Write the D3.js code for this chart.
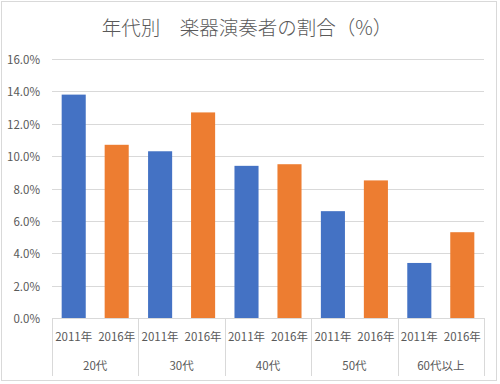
<!DOCTYPE html>
<html lang="ja">
<head>
  <meta charset="UTF-8">
  <title>年代別 楽器演奏者の割合</title>
  <style>
    body, html {
        margin: 0;
        padding: 0;
        background-color: #FFF;
    }
    svg text {
        font-family: "Noto Sans CJK JP", "Noto Sans", sans-serif;
        fill: #595959;
    }
  </style>
</head>
<body>

<svg id="chart" width="500" height="384"></svg>

<script src="https://d3js.org/d3.v7.min.js"></script>

<script>
/* global d3 */
var groups = ["20代", "30代", "40代", "50代", "60代以上"];
var years = ["2011年", "2016年"];
var values2011 = [13.8, 10.3, 9.4, 6.6, 3.4];
var values2016 = [10.7, 12.7, 9.5, 8.5, 5.3];
var yTicks = [0, 2, 4, 6, 8, 10, 12, 14, 16];

var colors = { "2011年": "#4472C4", "2016年": "#ED7D31" };

var svg = d3.select("#chart"),
  plotLeft = 52, plotRight = 484, plotTop = 59, plotBottom = 318;

// frame
svg.append("rect")
  .attr("x", 1.5).attr("y", 1.5)
  .attr("width", 495).attr("height", 379)
  .attr("fill", "#FFF")
  .attr("stroke", "#D9D9D9");

svg.append("text")
  .attr("x", 247).attr("y", 26)
  .attr("text-anchor", "middle")
  .attr("dominant-baseline", "central")
  .style("font-size", "19.5px")
  .style("font-weight", "300")
  .text("年代別　楽器演奏者の割合（%）");

var y = d3.scaleLinear().domain([0, 16]).range([plotBottom, plotTop]);
var x0 = d3.scaleBand().domain(groups).range([plotLeft, plotRight]);
var x1 = d3.scaleBand().domain(years).range([0, x0.bandwidth()])
  .paddingInner(0.44).paddingOuter(0.225);

// gridlines
svg.append("g")
  .selectAll("line")
  .data(yTicks.slice(1))
  .join("line")
  .attr("x1", plotLeft).attr("x2", plotRight)
  .attr("y1", function (d) { return Math.round(y(d)) + 0.5; })
  .attr("y2", function (d) { return Math.round(y(d)) + 0.5; })
  .attr("stroke", "#D9D9D9");

// y axis labels
svg.append("g")
  .selectAll("text")
  .data(yTicks)
  .join("text")
  .attr("x", 40)
  .attr("y", function (d) { return y(d); })
  .attr("text-anchor", "end")
  .attr("dominant-baseline", "central")
  .style("font-size", "11.5px")
  .text(function (d) { return d3.format(".1f")(d) + "%"; });

// bars
var rows = groups.map(function (g, i) {
  return { group: g, vals: [
    { year: years[0], v: values2011[i] },
    { year: years[1], v: values2016[i] }
  ]};
});

var grp = svg.append("g")
  .selectAll("g")
  .data(rows)
  .join("g")
  .attr("transform", function (d) { return "translate(" + x0(d.group) + ",0)"; });

grp.selectAll("rect")
  .data(function (d) { return d.vals; })
  .join("rect")
  .attr("x", function (d) { return x1(d.year); })
  .attr("width", x1.bandwidth())
  .attr("y", function (d) { return y(d.v); })
  .attr("height", function (d) { return plotBottom - y(d.v); })
  .attr("fill", function (d) { return colors[d.year]; });

// category axis
svg.append("line")
  .attr("x1", plotLeft).attr("x2", plotRight)
  .attr("y1", plotBottom + 0.5).attr("y2", plotBottom + 0.5)
  .attr("stroke", "#D9D9D9");

svg.append("g")
  .selectAll("line")
  .data(groups.map(function (g) { return x0(g); }).concat([plotRight]))
  .join("line")
  .attr("x1", function (d) { return Math.round(d) + 0.5; })
  .attr("x2", function (d) { return Math.round(d) + 0.5; })
  .attr("y1", plotBottom).attr("y2", 376)
  .attr("stroke", "#D9D9D9");

grp.selectAll("text.yr")
  .data(function (d) { return d.vals; })
  .join("text")
  .attr("class", "yr")
  .attr("x", function (d) { return x1(d.year) + x1.bandwidth() / 2; })
  .attr("y", 336)
  .attr("text-anchor", "middle")
  .attr("dominant-baseline", "central")
  .style("font-size", "11.5px")
  .text(function (d) { return d.year; });

grp.append("text")
  .attr("x", x0.bandwidth() / 2)
  .attr("y", 365)
  .attr("text-anchor", "middle")
  .attr("dominant-baseline", "central")
  .style("font-size", "11.5px")
  .text(function (d) { return d.group; });
</script>

</body>
</html>
